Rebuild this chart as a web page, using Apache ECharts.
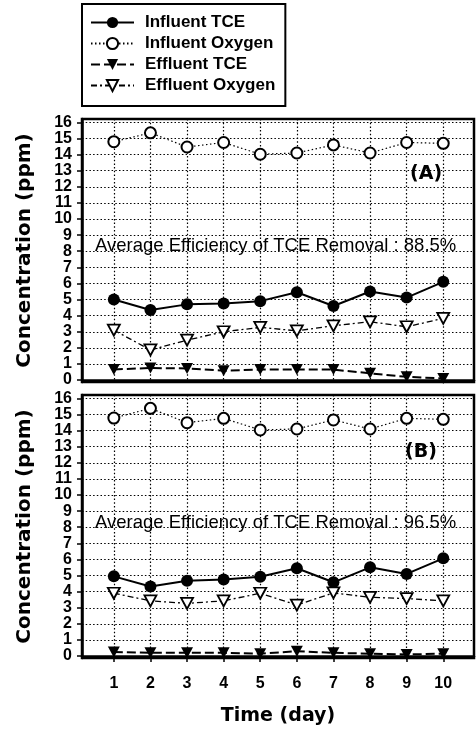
<!DOCTYPE html>
<html>
<head>
<meta charset="utf-8">
<script src="https://cdn.jsdelivr.net/npm/echarts@6/dist/echarts.min.js"></script>
<style>
html,body{margin:0;padding:0;background:#fff;}
#chart{width:476px;height:733px;}
</style>
</head>
<body>
<div id="chart"></div>
<script>
// ---- data ----
const days = [1, 2, 3, 4, 5, 6, 7, 8, 9, 10];
const yTicks = [0, 1, 2, 3, 4, 5, 6, 7, 8, 9, 10, 11, 12, 13, 14, 15, 16];

// Panel A
const aInfluentTCE = [5.0, 4.35, 4.7, 4.75, 4.9, 5.45, 4.6, 5.5, 5.12, 6.1];
const aInfluentO2 = [14.8, 15.35, 14.47, 14.75, 14.02, 14.1, 14.6, 14.1, 14.75, 14.7];
const aEffluentTCE = [0.66, 0.75, 0.72, 0.58, 0.65, 0.65, 0.65, 0.42, 0.2, 0.1];
const aEffluentO2 = [3.1, 1.87, 2.48, 3.0, 3.27, 3.06, 3.37, 3.62, 3.31, 3.83];

// Panel B
const bInfluentTCE = [4.95, 4.32, 4.68, 4.76, 4.93, 5.45, 4.58, 5.51, 5.1, 6.07];
const bInfluentO2 = [14.78, 15.38, 14.49, 14.76, 14.04, 14.1, 14.66, 14.1, 14.76, 14.7];
const bEffluentTCE = [0.25, 0.2, 0.2, 0.2, 0.15, 0.3, 0.2, 0.15, 0.1, 0.15];
const bEffluentO2 = [3.9, 3.43, 3.27, 3.43, 3.9, 3.17, 3.92, 3.65, 3.57, 3.43];

const names = ['Influent TCE', 'Influent Oxygen', 'Effluent TCE', 'Effluent Oxygen'];
const efficiencyA = 'Average Efficiency of TCE Removal : 88.5%';
const efficiencyB = 'Average Efficiency of TCE Removal : 96.5%';

// ---- chart ----
const pairs = (ys) => days.map((d, i) => [d, ys[i]]);
const chart = echarts.init(document.getElementById('chart'), null, {renderer: 'canvas'});

const tickFont = "'Liberation Sans', sans-serif";
const gridCommon = {left: 82, width: 392, height: 263, show: true, borderColor: '#000', borderWidth: 2.5, backgroundColor: 'transparent'};
const dotted = {color: '#000', width: 1.2, type: [1.5, 2.2]};

function xAxis(gridIndex, withLabels) {
  return {
    type: 'value', gridIndex, min: 0.13, max: 10.84,
    axisLine: {show: true, lineStyle: {color: '#000', width: 2.5}},
    axisTick: {show: withLabels, length: 6, customValues: days, lineStyle: {color: '#000', width: 1.5}},
    axisLabel: {show: withLabels, customValues: days, margin: 18, color: '#000', fontFamily: tickFont, fontWeight: 'bold', fontSize: 16},
    splitLine: {show: true, lineStyle: dotted},
    name: withLabels ? 'Time (day)' : '',
    nameLocation: 'middle', nameGap: 49,
    nameTextStyle: {color: '#000', fontFamily: 'DejaVu Sans', fontWeight: 'bold', fontSize: 19}
  };
}
function yAxis(gridIndex) {
  return {
    type: 'value', gridIndex, min: -0.12, max: 16.21,
    axisLine: {show: true, lineStyle: {color: '#000', width: 2.5}},
    axisTick: {show: true, length: 5, customValues: yTicks, lineStyle: {color: '#000', width: 1.5}},
    axisLabel: {customValues: yTicks, showMinLabel: true, showMaxLabel: true, hideOverlap: false,
      margin: 10, color: '#000', fontFamily: tickFont, fontWeight: 'bold', fontSize: 16, lineHeight: 15},
    splitLine: {show: true, lineStyle: dotted},
    name: 'Concentration (ppm)', nameLocation: 'middle', nameRotate: 90, nameGap: 47,
    nameTextStyle: {color: '#000', fontFamily: 'DejaVu Sans', fontWeight: 'bold', fontSize: 20}
  };
}

const styles = [
  {symbol: 'circle', symbolSize: 12, symbolRotate: 0, itemStyle: {color: '#000'}, lineStyle: {color: '#000', width: 2, type: 'solid'}},
  {symbol: 'circle', symbolSize: 11, symbolRotate: 0, itemStyle: {color: '#fff', borderColor: '#000', borderWidth: 2}, lineStyle: {color: '#000', width: 1.2, type: [1.5, 2.5]}},
  {symbol: 'triangle', symbolSize: [12, 11], symbolRotate: 180, itemStyle: {color: '#000'}, lineStyle: {color: '#000', width: 2, type: [9, 4]}},
  {symbol: 'triangle', symbolSize: [12, 11], symbolRotate: 180, itemStyle: {color: '#fff', borderColor: '#000', borderWidth: 1.8}, lineStyle: {color: '#000', width: 1.3, type: [6, 3, 2, 3]}}
];

const panelData = [
  [aInfluentTCE, aInfluentO2, aEffluentTCE, aEffluentO2],
  [bInfluentTCE, bInfluentO2, bEffluentTCE, bEffluentO2]
];
const series = [];
panelData.forEach((set, p) => {
  set.forEach((ys, k) => {
    series.push(Object.assign({
      name: names[k], type: 'line', xAxisIndex: p, yAxisIndex: p,
      data: pairs(ys), showAllSymbol: true, animation: false, z: 3 + k
    }, JSON.parse(JSON.stringify(styles[k]))));
  });
});

const annFont = (size, weight, family) => ({fill: '#000', font: `${weight} ${size}px ${family}`});

chart.setOption({
  animation: false,
  backgroundColor: '#fff',
  grid: [Object.assign({top: 119}, gridCommon), Object.assign({top: 395}, gridCommon)],
  xAxis: [xAxis(0, false), xAxis(1, true)],
  yAxis: [yAxis(0), yAxis(1)],
  legend: {
    data: names, orient: 'vertical', left: 82, top: 4,
    itemWidth: 43, itemHeight: 14, itemGap: 0,
    padding: [8, 10, 10, 8],
    borderColor: '#000', borderWidth: 2,
    selectedMode: false,
    textStyle: {color: '#000', fontFamily: 'Liberation Sans', fontWeight: 'bold', fontSize: 17, lineHeight: 21, padding: [0, 0, 0, 6]}
  },
  graphic: [
    {type: 'text', x: 95, y: 246, z: 10, style: Object.assign({text: efficiencyA, verticalAlign: 'middle'}, annFont(18.5, 'normal', 'Liberation Sans'))},
    {type: 'text', x: 95, y: 523, z: 10, style: Object.assign({text: efficiencyB, verticalAlign: 'middle'}, annFont(18.5, 'normal', 'Liberation Sans'))},
    {type: 'text', x: 410, y: 174, z: 10, style: Object.assign({text: '(A)', verticalAlign: 'middle'}, annFont(19, 'bold', 'DejaVu Sans'))},
    {type: 'text', x: 405, y: 452, z: 10, style: Object.assign({text: '(B)', verticalAlign: 'middle'}, annFont(19, 'bold', 'DejaVu Sans'))}
  ],
  series
});
</script>
</body>
</html>
